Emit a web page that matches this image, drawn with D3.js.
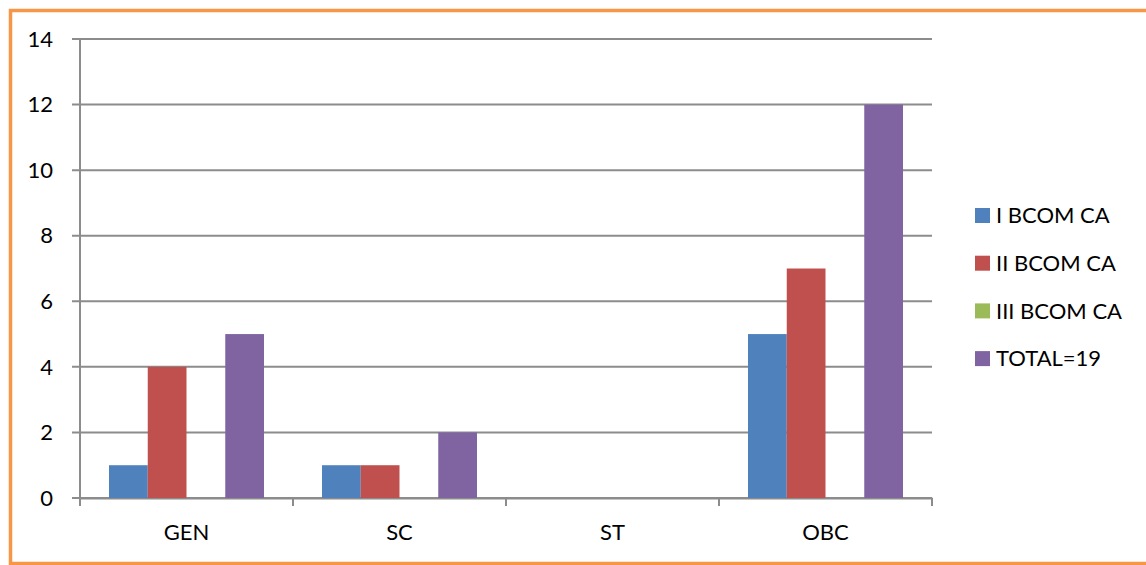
<!DOCTYPE html>
<meta charset="utf-8">
<script src="https://d3js.org/d3.v7.min.js"></script>
<style>
  body { margin: 0; background: #fff; }
  text { font-family: Lato, "Open Sans", sans-serif; fill: #000; }
</style>
<div id="chart"></div>
<script>

// categories, series and values
const categories = ["GEN", "SC", "ST", "OBC"];
const seriesNames = ["I BCOM CA", "II BCOM CA", "III BCOM CA", "TOTAL=19"];
const firstYear  = [1, 1, 0, 5];
const secondYear = [4, 1, 0, 7];
const thirdYear  = [0, 0, 0, 0];
const totals     = [5, 2, 0, 12];
const yTicks = [0, 2, 4, 6, 8, 10, 12, 14];

const colors = ["#4F81BD", "#C0504D", "#9BBB59", "#8064A2"];
const seriesValues = [firstYear, secondYear, thirdYear, totals];

const W = 1146, H = 565;
const plot = {left: 80, right: 932, top: 39, bottom: 498};

const svg = d3.select("#chart")
  .append("svg")
    .attr("width", W)
    .attr("height", H);

// orange frame round the chart
svg.append("rect")
  .attr("x", 10.5).attr("y", 10.5)
  .attr("width", W).attr("height", 553)
  .attr("fill", "none")
  .attr("stroke", "#F79646")
  .attr("stroke-width", 3.5);

const x0 = d3.scaleBand()
  .domain(categories)
  .range([plot.left, plot.right])
  .paddingInner(0)
  .paddingOuter(0);

// inner scale: the four bars of one category, ~29px gap each side
const x1 = d3.scaleBand()
  .domain(seriesNames)
  .range([29, x0.bandwidth() - 29]);

const y = d3.scaleLinear()
  .domain([0, 14])
  .range([plot.bottom, plot.top]);

// grid lines (with the little tick on the left)
svg.append("g")
  .selectAll("line")
  .data(yTicks)
  .join("line")
    .attr("x1", plot.left - 8)
    .attr("x2", plot.right)
    .attr("y1", d => y(d))
    .attr("y2", d => y(d))
    .attr("stroke", "#8C8C8C")
    .attr("stroke-width", 2);

// y tick labels
svg.append("g")
  .selectAll("text")
  .data(yTicks)
  .join("text")
    .attr("x", 53)
    .attr("y", d => y(d))
    .attr("dy", "0.35em")
    .attr("text-anchor", "end")
    .attr("font-size", 22)
    .text(d => d);

// y axis line
svg.append("line")
  .attr("x1", plot.left).attr("x2", plot.left)
  .attr("y1", plot.top).attr("y2", plot.bottom)
  .attr("stroke", "#8C8C8C")
  .attr("stroke-width", 2);

// x axis with category ticks
const xAxis = svg.append("g")
  .attr("transform", `translate(0, ${plot.bottom})`)
  .call(d3.axisBottom(x0).tickSize(0).tickPadding(26).tickSizeOuter(0));
xAxis.select(".domain").attr("stroke", "#8C8C8C").attr("stroke-width", 2);
xAxis.selectAll("text")
  .attr("font-family", "Lato, 'Open Sans', sans-serif")
  .attr("font-size", 22)
  .attr("fill", "#000");

const bounds = categories.map(c => x0(c)).concat([plot.right]);
xAxis.selectAll("line.sep")
  .data(bounds)
  .join("line")
    .attr("class", "sep")
    .attr("x1", d => d).attr("x2", d => d)
    .attr("y1", 0).attr("y2", 8)
    .attr("stroke", "#8C8C8C")
    .attr("stroke-width", 2);

// bars
const groups = svg.append("g")
  .selectAll("g")
  .data(categories)
  .join("g")
    .attr("transform", d => `translate(${x0(d)},0)`);

groups.selectAll("rect")
  .data((c, ci) => seriesNames.map((s, si) => ({s: s, si: si, v: seriesValues[si][ci]})))
  .join("rect")
    .attr("x", d => x1(d.s))
    .attr("y", d => y(d.v))
    .attr("width", x1.bandwidth())
    .attr("height", d => y(0) - y(d.v))
    .attr("fill", d => colors[d.si]);

// legend
const legend = svg.append("g")
  .attr("transform", "translate(975, 208)");

legend.selectAll("rect")
  .data(seriesNames)
  .join("rect")
    .attr("x", 0)
    .attr("y", (d, i) => i * 47.7)
    .attr("width", 15)
    .attr("height", 15)
    .attr("fill", (d, i) => colors[i]);

legend.selectAll("text")
  .data(seriesNames)
  .join("text")
    .attr("x", 21)
    .attr("y", (d, i) => i * 47.7 + 7.5)
    .attr("dy", "0.35em")
    .attr("font-size", 22)
    .text(d => d);

</script>
